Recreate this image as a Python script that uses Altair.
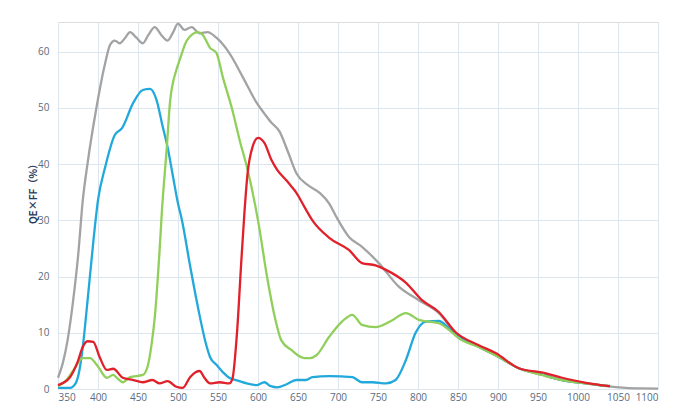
import altair as alt
import pandas as pd

gray_wl = [350,356,362,369,375,381,387,398,409,415,421,427,434,440,448,456,463,471,479,487,494,500,508,517,527,537,548,564,581,598,608,616,627,638,648,662,677,689,698,714,730,751,776,801,826,847,876,897,926,955,980,1010,1035,1060,1080,1100]
gray_v = [2,4.6,8.7,15.8,23.5,33.6,40.2,50,58,61.2,62,61.5,62.5,63.5,62.5,61.5,63,64.4,63,62,63.5,65,63.9,64.4,63.3,63.5,62.5,59.8,55.5,51,49,47.5,45.8,42,38.4,36.3,34.9,33,30.6,27,25.3,22.4,18.2,15.8,13.5,10,7.5,6,3.7,2.5,1.6,1,0.5,0.2,0.1,0.05]

blue_wl = [350,365,372,377,381,387,394,400,409,421,430,444,456,465,473,481,487,493,500,505,515,525,535,540,548,556,564,575,586,598,608,616,624,635,648,660,668,689,718,730,743,760,772,785,797,810,826,839,847,860,876,897,926,955,980,1010,1040]
blue_v = [0.2,0.2,1,3.5,7.5,15.8,26,33.6,39.5,45.2,46.4,50.9,53.2,53.4,51.5,46.6,43,38.4,33,30,22,14.5,8,5.7,4.3,3,2,1.5,1,0.7,1.2,0.5,0.3,0.8,1.6,1.6,2.1,2.3,2.1,1.2,1.2,1,1.6,5.2,10,12,12.1,10.8,10,8.5,7.5,6,3.7,2.6,1.6,1,0.5]

green_wl = [350,360,370,381,390,400,411,419,425,431,440,456,462,467,471,477,480,486,490,498,502,511,525,531,540,548,556,568,577,587,600,612,621,629,642,658,665,673,689,705,718,730,747,765,785,801,826,839,851,876,897,926,955,980,1010,1040]
green_v = [0.5,1.5,3.5,5.5,5.5,4,2,2.5,1.8,1.2,2.1,2.5,4,8,12.8,24.7,31.9,43,51,56.8,58.5,62,63.5,63,60.7,59.8,55.5,49.6,44.3,39,30,19.4,12.8,8.7,6.9,5.5,5.5,6,9.3,12,13.2,11.4,11,12,13.5,12.3,11.7,10.5,9,7.5,6,3.7,2.5,1.6,1,0.5]

red_wl = [350,365,375,381,387,394,402,411,419,431,444,456,468,477,487,498,506,515,522,527,533,540,552,564,568,574,579,583,587,593,600,608,617,624,635,642,648,658,668,689,714,730,747,760,785,805,826,847,876,897,926,960,980,1010,1040]
red_v = [0.7,2.1,5,7.5,8.5,8.4,5.7,3.4,3.6,2,1.6,1.2,1.6,1,1.4,0.4,0.2,2.1,3,3.2,2,1,1.2,1,1.8,10.5,22.4,31.3,38.4,43,44.7,43.8,40.7,39,37.2,36,34.9,32.4,30,26.9,24.7,22.4,22,21.2,18.9,15.8,13.7,10.1,7.8,6.4,3.7,2.8,2,1.1,0.5]

series = ["gray", "blue", "green", "red"]
colors = ["#a3a3a3", "#22a9dc", "#90cf5a", "#e0202a"]

rows = []
for name, wl, vals in [("gray", gray_wl, gray_v), ("blue", blue_wl, blue_v),
                       ("green", green_wl, green_v), ("red", red_wl, red_v)]:
    for w, v in zip(wl, vals):
        rows.append({"series": name, "wl": w, "qe": v})
df = pd.DataFrame(rows)

x_ticks = list(range(350, 1101, 50))
y_ticks = [0, 10, 20, 30, 40, 50, 60]
grid_color = "#dde5ee"
label_color = "#5a6b7d"

chart = alt.Chart(df).mark_line(interpolate="monotone", strokeWidth=2.3).encode(
    x=alt.X("wl:Q", scale=alt.Scale(domain=[350, 1100], nice=False, zero=False),
            axis=alt.Axis(values=x_ticks, format="d", title=None, ticks=False, grid=True,
                          gridColor=grid_color, domainColor=grid_color,
                          labelColor=label_color, labelFontSize=10, labelPadding=3,
                          labelFont="Open Sans")),
    y=alt.Y("qe:Q", scale=alt.Scale(domain=[0, 65.3], nice=False),
            axis=alt.Axis(values=y_ticks, title="QE×FF（%）", ticks=False, grid=True,
                          gridColor=grid_color, domainColor=grid_color,
                          labelColor=label_color, labelFontSize=10, labelPadding=9,
                          labelFont="Open Sans",
                          titleFont="Noto Sans CJK SC", titleFontSize=10, titleFontWeight="bold",
                          titleColor="#1f3a5a", titleX=-25, titleY=169, titleBaseline="middle",
                          titleAngle=270)),
    color=alt.Color("series:N", scale=alt.Scale(domain=series, range=colors), legend=None),
    detail="series:N",
    order=alt.Order("wl:Q"),
).properties(
    width=600, height=367,
    autosize=alt.AutoSizeParams(type="none"),
    padding={"left": 50, "top": 14, "right": 10, "bottom": 16},
).configure_view(stroke=None).configure(background="white")

chart.save("out.html", embed_options={"renderer": "svg", "actions": False})
